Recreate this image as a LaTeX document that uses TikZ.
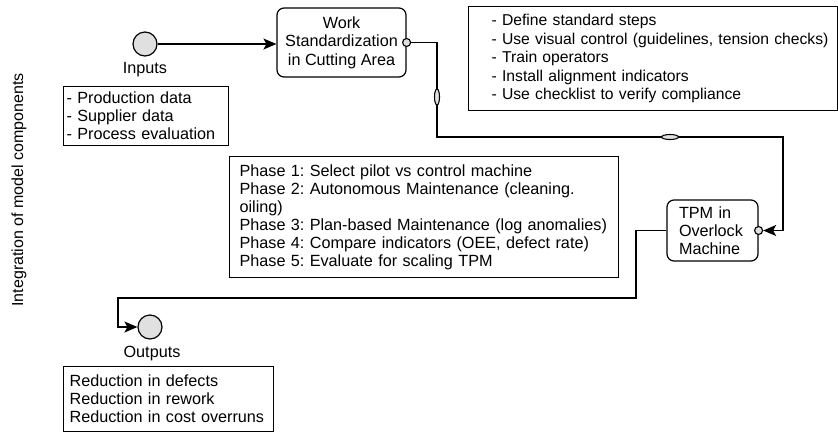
\documentclass[tikz,border=0pt]{standalone}
\usepackage{fontspec}
\setmainfont{Liberation Sans}
\usetikzlibrary{arrows.meta,shapes.geometric}
\tikzset{
	event/.style={circle, draw, line width=1.2pt, fill=black!12, minimum size=24pt, inner sep=0pt},
	task/.style={draw, line width=1.2pt, rounded corners=7pt, align=center, inner sep=0pt},
	note/.style={draw, line width=1.2pt, align=left, anchor=north west, inner ysep=0pt},
	port/.style={circle, draw, line width=1.1pt, fill=black!12, minimum size=8pt, inner sep=0pt},
	vmark/.style={ellipse, draw, line width=1.1pt, fill=black!12, minimum width=5pt, minimum height=16pt, inner sep=0pt},
	hmark/.style={ellipse, draw, line width=1.1pt, fill=black!12, minimum width=17pt, minimum height=5pt, inner sep=0pt},
	flow/.style={line width=1.2pt, -{Stealth[length=13pt, width=11pt, inset=3pt]}}
}
\frenchspacing
\hyphenpenalty=10000
\begin{document}
\begin{tikzpicture}[x=1pt, y=-1pt, font=\fontsize{16.2pt}{18pt}\selectfont]
		\useasboundingbox (0, 0) rectangle (838, 432);
		% side label
		\node[rotate=90, font=\fontsize{16pt}{18pt}\selectfont] (side) at (19, 190) {Integration of model components};
		% inputs
		\node[event] (in) at (145, 44) {};
		\node (inlbl) at (145, 70) {Inputs};
		\node[note, inner xsep=3pt, text width=159pt, minimum height=59pt] (indata) at (63, 86)
			{- Production data\\- Supplier data\\- Process evaluation};
		% the two tasks
		\node[task, minimum width=129pt, minimum height=69pt, font=\fontsize{16.2pt}{18.5pt}\selectfont] (work) at (341.5, 42.5)
			{Work\\Standardization\\in Cutting Area};
		\node[task, align=left, inner xsep=12pt, text width=67pt, minimum height=61pt] (tpm) at (712.5, 230.5)
			{TPM in\\Overlock\\Machine};
		\node[port] (wport) at (work.east) {};
		\node[port] (tport) at (tpm.east) {};
		% notes
		\node[note, inner xsep=1pt, text width=367pt, minimum height=104pt, font=\fontsize{15.7pt}{18.5pt}\selectfont] (steps) at (468, 6)
			{\hspace*{22pt}- Define standard steps\\
			\mbox{\hspace*{22pt}- Use visual control (guidelines, tension checks)}\\
			\hspace*{22pt}- Train operators\\
			\hspace*{22pt}- Install alignment indicators\\
			\hspace*{22pt}- Use checklist to verify compliance};
		\node[note, inner xsep=10pt, text width=369pt, minimum height=121pt] (phases) at (229, 156)
			{Phase 1: Select pilot vs control machine\\
			Phase 2: Autonomous Maintenance (cleaning.\\
			oiling)\\
			Phase 3: Plan-based Maintenance (log~anomalies)\\
			Phase 4: Compare indicators (OEE, defect rate)\\
			Phase 5: Evaluate for scaling TPM};
		% outputs
		\node[event] (out) at (150, 327) {};
		\node (outlbl) at (152, 354) {Outputs};
		\node[note, inner xsep=6pt, text width=198pt, minimum height=65pt] (outdata) at (63, 366)
			{Reduction in defects\\Reduction in rework\\Reduction in cost~overruns};
		% bends of the connectors
		\coordinate (c1) at (437, 137);
		\coordinate (c2) at (783, 137);
		\coordinate (c3) at (636, 298);
		\coordinate (c4) at (118, 298);
		% connectors
		\draw[flow] (in.east) -- (in.east -| work.west);
		\draw[flow] (wport.east) -| (c1) -- (c2) |- (tport.east);
		\draw[flow] (tpm.west) -| (c3) -- (c4) |- (out.west);
		% marks on the connector
		\node[vmark] (m1) at (437, 97) {};
		\node[hmark] (m2) at (670, 137) {};
	\end{tikzpicture}
\end{document}
